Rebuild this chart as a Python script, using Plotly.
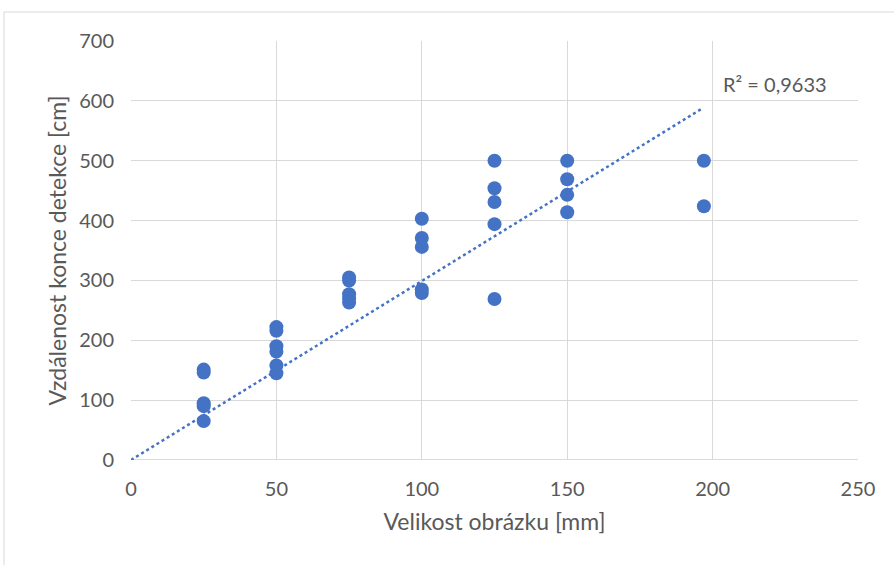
import plotly.graph_objects as go

x_vals = [25, 25, 25, 25, 25,
          50, 50, 50, 50, 50, 50,
          75, 75, 75, 75, 75,
          100, 100, 100, 100, 100,
          125, 125, 125, 125, 125,
          150, 150, 150, 150,
          197, 197]
y_vals = [151, 146, 95, 90, 65,
          222, 216, 190, 181, 158, 145,
          305, 300, 277, 270, 263,
          403, 371, 356, 285, 279,
          500, 454, 431, 394, 269,
          500, 469, 443, 414,
          500, 424]
x_ticks = [0, 50, 100, 150, 200, 250]
y_ticks = [0, 100, 200, 300, 400, 500, 600, 700]
r2_label = "R² = 0,9633"
trend_slope = 2.99          # (trendline through origin)
trend_x = [0, 196]
trend_y = [trend_slope * v for v in trend_x]

grey = "#595959"
fig = go.Figure()
fig.add_trace(go.Scatter(x=trend_x, y=trend_y, mode="lines",
                         line=dict(color="#4472C4", width=2.5, dash="dot"),
                         hoverinfo="skip", showlegend=False))
fig.add_trace(go.Scatter(x=x_vals, y=y_vals, mode="markers",
                         marker=dict(color="#4472C4", size=14, line=dict(width=0)),
                         showlegend=False))

fig.add_annotation(x=221.5, y=628, text=r2_label, showarrow=False,
                   font=dict(size=20, color=grey, family="Lato"))

# chart border (left and top)
fig.add_shape(type="line", xref="paper", yref="paper",
              x0=-0.1747, x1=-0.1747, y0=1.0692, y1=-0.3, line=dict(color="#d9d9d9", width=1))
fig.add_shape(type="line", xref="paper", yref="paper",
              x0=-0.1747, x1=1.1, y0=1.0692, y1=1.0692, line=dict(color="#d9d9d9", width=1))

fig.update_layout(
    width=894, height=565,
    margin=dict(l=131, r=36, t=41, b=105),
    plot_bgcolor="white", paper_bgcolor="white",
    font=dict(family="Lato", color=grey, size=20),
    xaxis=dict(range=[0, 250], tickvals=x_ticks, showgrid=True, gridcolor="#d9d9d9",
               zeroline=False, showline=False, ticks="", ticklabelstandoff=15,
               title=dict(text="Velikost obrázku [mm]", font=dict(size=23, color=grey), standoff=14),
               tickfont=dict(size=20, color=grey)),
    yaxis=dict(range=[0, 700], tickvals=y_ticks, showgrid=True, gridcolor="#d9d9d9",
               zeroline=False, showline=False, ticks="", ticklabelstandoff=16,
               title=dict(text="Vzdálenost konce detekce [cm]", font=dict(size=23, color=grey), standoff=6),
               tickfont=dict(size=20, color=grey)),
)
fig.add_shape(type="line", xref="paper", yref="y", x0=0, x1=1, y0=0, y1=0,
              line=dict(color="#cfcfcf", width=1.5), layer="below")
fig.write_html("out.html")
